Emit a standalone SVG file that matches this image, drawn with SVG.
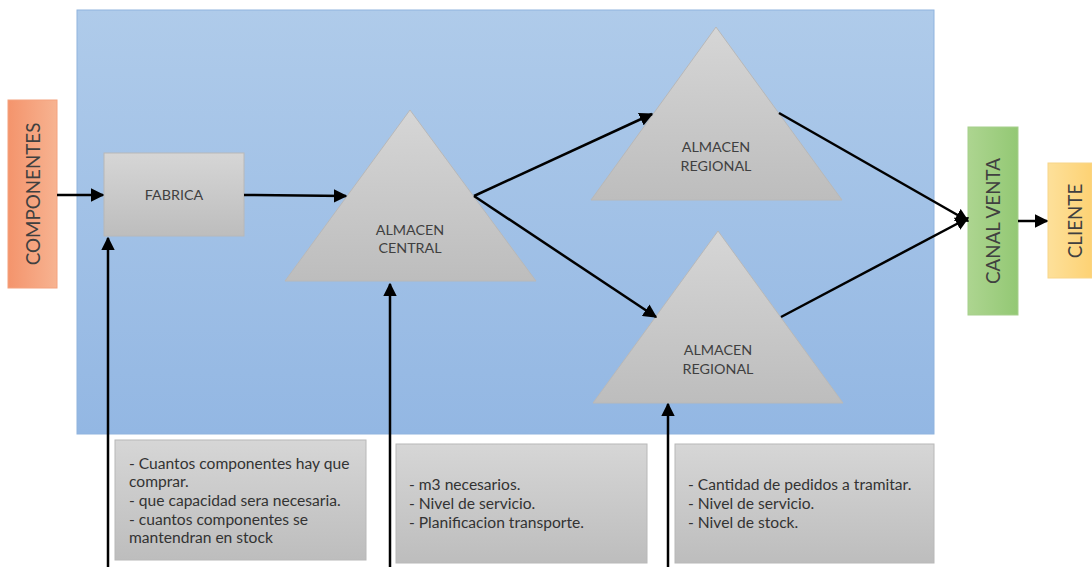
<svg xmlns="http://www.w3.org/2000/svg" width="1092" height="567" viewBox="0 0 1092 567">
  <defs>
    <linearGradient id="gBlue" x1="0" y1="0" x2="0" y2="1">
      <stop offset="0" stop-color="#afcbea"/>
      <stop offset="1" stop-color="#93b7e3"/>
    </linearGradient>
    <linearGradient id="gGray" x1="0" y1="0" x2="0" y2="1">
      <stop offset="0" stop-color="#d6d6d6"/>
      <stop offset="1" stop-color="#bdbdbd"/>
    </linearGradient>
    <linearGradient id="gOrange" x1="0" y1="0" x2="1" y2="0">
      <stop offset="0" stop-color="#f4946c"/>
      <stop offset="1" stop-color="#f7b391"/>
    </linearGradient>
    <linearGradient id="gGreen" x1="0" y1="0" x2="1" y2="0">
      <stop offset="0" stop-color="#add590"/>
      <stop offset="1" stop-color="#93c874"/>
    </linearGradient>
    <linearGradient id="gYellow" x1="0" y1="0" x2="1" y2="0">
      <stop offset="0" stop-color="#fde09a"/>
      <stop offset="1" stop-color="#fdd274"/>
    </linearGradient>
    <marker id="arr" viewBox="0 0 10 10" refX="9" refY="5" markerWidth="5.5" markerHeight="5.5" orient="auto" markerUnits="strokeWidth">
      <path d="M0,0 L10,5 L0,10 z" fill="#000"/>
    </marker>
  </defs>
  <style>
    .lbl { font-family: Lato, "Open Sans", "Liberation Sans", sans-serif; fill: #404040; }
    .node { font-size: 14.3px; }
    .side { font-size: 18.8px; }
    .note { font-size: 15.6px; fill: #333; }
    .shape { fill: url(#gGray); stroke: #b8b8b8; stroke-width: 1; }
    .conn { stroke: #000; stroke-width: 2.5; fill: none; marker-end: url(#arr); }
  </style>

  <rect width="1092" height="567" fill="#fff"/>

  <!-- background area -->
  <rect id="area" x="77" y="10" width="857" height="424" fill="url(#gBlue)" stroke="#8fb3de" stroke-width="1"/>

  <g id="componentes">
    <rect x="8" y="100" width="49" height="188" fill="url(#gOrange)" stroke="#f4a27e" stroke-width="1"/>
    <text class="lbl side" transform="translate(40,194) rotate(-90)" text-anchor="middle">COMPONENTES</text>
  </g>

  <g id="fabrica">
    <rect class="shape" x="104" y="153" width="140" height="83"/>
    <text class="lbl node" x="174" y="200" text-anchor="middle">FABRICA</text>
  </g>

  <g id="almacen-central">
    <polygon class="shape" points="410,110 536,281 285,281"/>
    <text class="lbl node" x="410" y="235" text-anchor="middle">ALMACEN</text>
    <text class="lbl node" x="410" y="253" text-anchor="middle">CENTRAL</text>
  </g>

  <g id="almacen-regional-1">
    <polygon class="shape" points="716,27 842,200 591,200"/>
    <text class="lbl node" x="716" y="152" text-anchor="middle">ALMACEN</text>
    <text class="lbl node" x="716" y="171" text-anchor="middle">REGIONAL</text>
  </g>

  <g id="almacen-regional-2">
    <polygon class="shape" points="718,231 843,403 593,403"/>
    <text class="lbl node" x="718" y="355" text-anchor="middle">ALMACEN</text>
    <text class="lbl node" x="718" y="374" text-anchor="middle">REGIONAL</text>
  </g>

  <g id="canal-venta">
    <rect x="968" y="127" width="50" height="188" fill="url(#gGreen)" stroke="#a6cf8c" stroke-width="1"/>
    <text class="lbl side" transform="translate(1000,221) rotate(-90)" text-anchor="middle">CANAL VENTA</text>
  </g>

  <g id="cliente">
    <rect x="1048" y="163" width="44" height="115" fill="url(#gYellow)" stroke="#f8d58a" stroke-width="1"/>
    <text class="lbl side" transform="translate(1082,221) rotate(-90)" text-anchor="middle">CLIENTE</text>
  </g>

  <g id="nota-fabrica">
    <rect class="shape" x="115" y="440" width="251" height="120"/>
    <text class="lbl note" x="129" y="469">- Cuantos componentes hay que</text>
    <text class="lbl note" x="129" y="487">comprar.</text>
    <text class="lbl note" x="129" y="506">- que capacidad sera necesaria.</text>
    <text class="lbl note" x="129" y="525">- cuantos componentes se</text>
    <text class="lbl note" x="129" y="543">mantendran en stock</text>
  </g>

  <g id="nota-central">
    <rect class="shape" x="396" y="444" width="251" height="119"/>
    <text class="lbl note" x="409" y="490">- m3 necesarios.</text>
    <text class="lbl note" x="409" y="509">- Nivel de servicio.</text>
    <text class="lbl note" x="409" y="528">- Planificacion transporte.</text>
  </g>

  <g id="nota-regional">
    <rect class="shape" x="675" y="444" width="259" height="119"/>
    <text class="lbl note" x="688" y="490">- Cantidad de pedidos a tramitar.</text>
    <text class="lbl note" x="688" y="509">- Nivel de servicio.</text>
    <text class="lbl note" x="688" y="528">- Nivel de stock.</text>
  </g>

  <g id="connectors">
    <line class="conn" x1="57" y1="195" x2="103" y2="195"/>
    <line class="conn" x1="244" y1="195" x2="346" y2="196"/>
    <line class="conn" x1="474" y1="196" x2="652" y2="114"/>
    <line class="conn" x1="474" y1="196" x2="656" y2="317"/>
    <line class="conn" x1="779" y1="113" x2="968" y2="221"/>
    <line class="conn" x1="781" y1="317" x2="968" y2="218"/>
    <line class="conn" x1="1018" y1="221" x2="1047" y2="221"/>
    <line class="conn" x1="108" y1="567" x2="108" y2="238"/>
    <line class="conn" x1="390" y1="567" x2="390" y2="284"/>
    <line class="conn" x1="668" y1="567" x2="668" y2="404"/>
  </g>
</svg>
